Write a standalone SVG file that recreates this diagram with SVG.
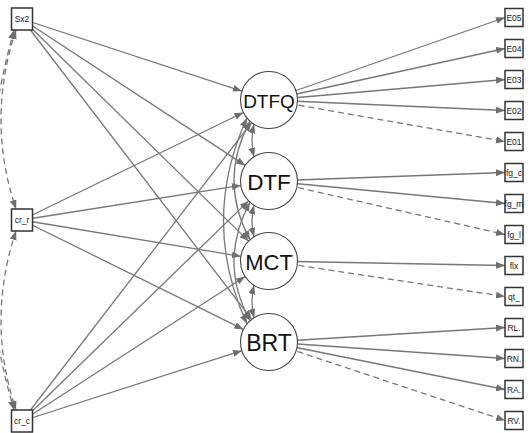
<svg xmlns="http://www.w3.org/2000/svg" width="528" height="433" viewBox="0 0 528 433">
<defs>
<marker id="ah" markerUnits="userSpaceOnUse" markerWidth="10" markerHeight="8" refX="9" refY="3.5" orient="auto-start-reverse">
<path d="M0,0 L9,3.5 L0,7 z" fill="#6e6e6e"/>
</marker>
</defs>
<style>
.e{stroke:#777;stroke-width:1.3;fill:none;marker-end:url(#ah)}
.d{stroke-dasharray:6,4}
.c{stroke:#777;stroke-width:1.3;fill:none;marker-start:url(#ah);marker-end:url(#ah)}
.box{fill:#fff;stroke:#333;stroke-width:1.5}
.lat{fill:#fff;stroke:#444;stroke-width:1.1}
.bt{font-family:"Liberation Sans",Arial,sans-serif;font-size:8.5px;fill:#222;text-anchor:middle;dominant-baseline:central}
.lt{font-family:"Liberation Sans",Arial,sans-serif;fill:#111;text-anchor:middle;dominant-baseline:central}
</style>
<rect width="528" height="433" fill="#fff"/>
<g id="connectors">
<!-- exogenous covariances -->
<path class="c d" d="M16,30 Q-14,120 16,209"/>
<path class="c d" d="M16,231 Q-14,321 16,410"/>
<path class="c d" d="M14,30 Q-40,225 14,410"/>
<!-- regressions -->
<line class="e" x1="22" y1="19" x2="241.9" y2="91.1"/>
<line class="e" x1="22" y1="19" x2="245.2" y2="165.4"/>
<line class="e" x1="22" y1="19" x2="248.6" y2="241.1"/>
<line class="e" x1="22" y1="19" x2="251.7" y2="319.4"/>
<line class="e" x1="22" y1="220" x2="243.4" y2="112.5"/>
<line class="e" x1="22" y1="220" x2="240.9" y2="185.4"/>
<line class="e" x1="22" y1="220" x2="240.9" y2="256.3"/>
<line class="e" x1="22" y1="220" x2="243.4" y2="329.4"/>
<line class="e" x1="22" y1="421" x2="251.6" y2="122.6"/>
<line class="e" x1="22" y1="421" x2="248.6" y2="200.9"/>
<line class="e" x1="22" y1="421" x2="245.1" y2="276.5"/>
<line class="e" x1="22" y1="421" x2="241.9" y2="350.7"/>
<!-- latent covariances -->
<path class="c" d="M254,124.2 Q250,140.5 254,156.8"/>
<path class="c" d="M254,205.2 Q250,221 254,236.8"/>
<path class="c" d="M254,285.2 Q250,301.5 254,317.8"/>
<path class="c" d="M250,121.2 Q218,180.5 250,239.8"/>
<path class="c" d="M250,202.2 Q218,261.5 250,320.8"/>
<path class="c" d="M247,118.1 Q200,221 247,323.9"/>
<!-- loadings -->
<line class="e" x1="269" y1="100" x2="505" y2="17.5"/>
<line class="e" x1="269" y1="100" x2="505" y2="48.5"/>
<line class="e" x1="269" y1="100" x2="505" y2="79.5"/>
<line class="e" x1="269" y1="100" x2="505" y2="110.5"/>
<line class="e d" x1="269" y1="100" x2="505" y2="141.5"/>
<line class="e" x1="269" y1="181" x2="505" y2="172.5"/>
<line class="e" x1="269" y1="181" x2="505" y2="203.5"/>
<line class="e d" x1="269" y1="181" x2="505" y2="234.5"/>
<line class="e" x1="269" y1="261" x2="505" y2="265.5"/>
<line class="e d" x1="269" y1="261" x2="505" y2="296.5"/>
<line class="e" x1="269" y1="342" x2="505" y2="327.5"/>
<line class="e" x1="269" y1="342" x2="505" y2="358.5"/>
<line class="e" x1="269" y1="342" x2="505" y2="389.5"/>
<line class="e d" x1="269" y1="342" x2="505" y2="420.5"/>
</g>
<g id="Sx2"><rect class="box" x="11.5" y="8" width="21" height="22"/><text class="bt" x="22" y="19">Sx2</text></g>
<g id="cr_r"><rect class="box" x="11.5" y="209" width="21" height="22"/><text class="bt" x="22" y="220">cr_r</text></g>
<g id="cr_c"><rect class="box" x="11.5" y="410" width="21" height="22"/><text class="bt" x="22" y="421">cr_c</text></g>
<g id="DTFQ"><circle class="lat" cx="269" cy="100" r="28.5"/><text class="lt" x="269" y="101" font-size="19">DTFQ</text></g>
<g id="DTF"><circle class="lat" cx="269" cy="181" r="28.5"/><text class="lt" x="269" y="182" font-size="22.5">DTF</text></g>
<g id="MCT"><circle class="lat" cx="269" cy="261" r="28.5"/><text class="lt" x="269" y="262" font-size="22">MCT</text></g>
<g id="BRT"><circle class="lat" cx="269" cy="342" r="28.5"/><text class="lt" x="269" y="343" font-size="23">BRT</text></g>
<g id="E05"><rect class="box" x="505" y="8.5" width="18" height="18"/><text class="bt" x="514" y="17.5">E05</text></g>
<g id="E04"><rect class="box" x="505" y="39.5" width="18" height="18"/><text class="bt" x="514" y="48.5">E04</text></g>
<g id="E03"><rect class="box" x="505" y="70.5" width="18" height="18"/><text class="bt" x="514" y="79.5">E03</text></g>
<g id="E02"><rect class="box" x="505" y="101.5" width="18" height="18"/><text class="bt" x="514" y="110.5">E02</text></g>
<g id="E01"><rect class="box" x="505" y="132.5" width="18" height="18"/><text class="bt" x="514" y="141.5">E01</text></g>
<g id="fg_c"><rect class="box" x="505" y="163.5" width="18" height="18"/><text class="bt" x="514" y="172.5">fg_c</text></g>
<g id="fg_m"><rect class="box" x="505" y="194.5" width="18" height="18"/><text class="bt" x="514" y="203.5">fg_m</text></g>
<g id="fg_l"><rect class="box" x="505" y="225.5" width="18" height="18"/><text class="bt" x="514" y="234.5">fg_l</text></g>
<g id="flx"><rect class="box" x="505" y="256.5" width="18" height="18"/><text class="bt" x="514" y="265.5">flx</text></g>
<g id="qt_"><rect class="box" x="505" y="287.5" width="18" height="18"/><text class="bt" x="514" y="296.5">qt_</text></g>
<g id="RL."><rect class="box" x="505" y="318.5" width="18" height="18"/><text class="bt" x="514" y="327.5">RL.</text></g>
<g id="RN."><rect class="box" x="505" y="349.5" width="18" height="18"/><text class="bt" x="514" y="358.5">RN.</text></g>
<g id="RA."><rect class="box" x="505" y="380.5" width="18" height="18"/><text class="bt" x="514" y="389.5">RA.</text></g>
<g id="RV."><rect class="box" x="505" y="411.5" width="18" height="18"/><text class="bt" x="514" y="420.5">RV.</text></g>
</svg>
